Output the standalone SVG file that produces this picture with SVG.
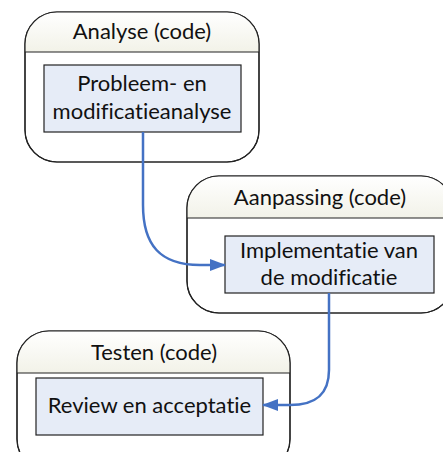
<svg xmlns="http://www.w3.org/2000/svg" width="443" height="452" viewBox="0 0 443 452">
  <defs>
    <linearGradient id="hdr" x1="0" y1="0" x2="0" y2="1">
      <stop offset="0" stop-color="#ffffff"/>
      <stop offset="1" stop-color="#f2f2e8"/>
    </linearGradient>
    <marker id="arrow" viewBox="0 0 16 12" refX="15" refY="6" markerWidth="16" markerHeight="12" markerUnits="userSpaceOnUse" orient="auto">
      <path d="M0,0 L16,6 L0,12 Z" fill="#4472c4"/>
    </marker>
    <clipPath id="c1"><rect x="25" y="12" width="234" height="150" rx="32"/></clipPath>
    <clipPath id="c2"><rect x="187" y="176" width="266" height="137" rx="32"/></clipPath>
    <clipPath id="c3"><rect x="17" y="331" width="273" height="140" rx="32"/></clipPath>
  </defs>
  <style>
    .lane { fill: #ffffff; stroke: #222; stroke-width: 1.2; }
    .hdr { fill: url(#hdr); }
    .sep { stroke: #222; stroke-width: 1.2; }
    .task { fill: #e6ecf7; stroke: #222; stroke-width: 1.2; }
    text { font-family: Lato, "Open Sans", sans-serif; font-size: 22px; fill: #111; text-anchor: middle; font-variant-ligatures: none; }
    .conn { fill: none; stroke: #4472c4; stroke-width: 2.5; marker-end: url(#arrow); }
  </style>

  <g id="analyse">
    <rect class="lane" x="25" y="12" width="234" height="150" rx="32"/>
    <rect class="hdr" x="25" y="12" width="234" height="40" clip-path="url(#c1)"/>
    <rect x="25" y="12" width="234" height="150" rx="32" fill="none" stroke="#222" stroke-width="1.2"/>
    <line class="sep" x1="25" y1="52" x2="259" y2="52"/>
    <text x="142" y="39">Analyse (code)</text>
    <rect class="task" x="44" y="65" width="197" height="67"/>
    <text x="142" y="91">Probleem- en</text>
    <text x="142" y="119">modificatieanalyse</text>
  </g>

  <g id="aanpassing">
    <rect class="lane" x="187" y="176" width="266" height="137" rx="32"/>
    <rect class="hdr" x="187" y="176" width="266" height="42" clip-path="url(#c2)"/>
    <rect x="187" y="176" width="266" height="137" rx="32" fill="none" stroke="#222" stroke-width="1.2"/>
    <line class="sep" x1="187" y1="218" x2="453" y2="218"/>
    <text x="320" y="205">Aanpassing (code)</text>
    <rect class="task" x="225" y="236" width="209" height="57"/>
    <text x="329" y="258">Implementatie van</text>
    <text x="329" y="285">de modificatie</text>
  </g>

  <g id="testen">
    <rect class="lane" x="17" y="331" width="273" height="140" rx="32"/>
    <rect class="hdr" x="17" y="331" width="273" height="42" clip-path="url(#c3)"/>
    <rect x="17" y="331" width="273" height="140" rx="32" fill="none" stroke="#222" stroke-width="1.2"/>
    <line class="sep" x1="17" y1="373" x2="290" y2="373"/>
    <text x="154" y="360">Testen (code)</text>
    <rect class="task" x="36" y="378" width="227" height="57"/>
    <text x="149.5" y="413">Review en acceptatie</text>
  </g>

  <g id="connectors">
    <path class="conn" d="M143,132 L143,205 C143,245 160,265 200,265 L225,265"/>
    <path class="conn" d="M329,293 L329,370 C329,395 315,405 290,405 L263,405"/>
  </g>
</svg>
